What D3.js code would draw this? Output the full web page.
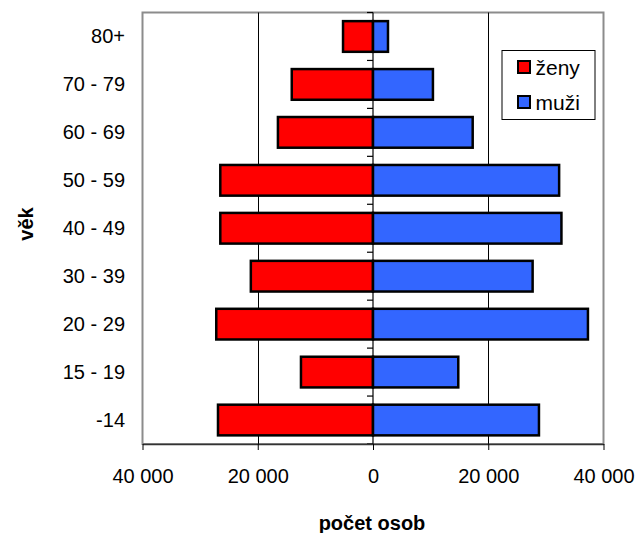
<!DOCTYPE html>
<html><head><meta charset="utf-8">
<script src="https://cdn.jsdelivr.net/npm/d3@7"></script>
<style>body{margin:0;background:#fff}svg{display:block;font-family:Arial,"Liberation Sans",sans-serif}</style>
</head><body><svg id="c" width="638" height="533"></svg>
<script>
const categories = ["80+","70 - 79","60 - 69","50 - 59","40 - 49","30 - 39","20 - 29","15 - 19","-14"];
const zeny = [5200, 14100, 16500, 26500, 26500, 21200, 27200, 12500, 26900];
const muzi = [2600, 10400, 17300, 32300, 32700, 27700, 37300, 14800, 28800];
const xTicks = [-40000, -20000, 0, 20000, 40000];
const seriesNames = ["ženy", "muži"];
const colors = ["#ff0000", "#3366ff"];

const svg = d3.select("#c");
const L = 142.5, R = 603.5, T = 12.5, B = 444;
const x = d3.scaleLinear().domain([-40000, 40000]).range([L, R]);
const y = d3.scaleBand().domain(categories).range([T, B]).paddingInner(0.36).paddingOuter(0.18);
const yb = d3.scaleBand().domain(categories).range([T, B]);
const fmt = v => d3.format(",")(Math.abs(v)).replace(/,/g, " ");

// plot border
svg.append("rect").attr("x", L).attr("y", T).attr("width", R - L).attr("height", B - T)
  .attr("fill", "none").attr("stroke", "#8c8c8c").attr("stroke-width", 2);

// gridlines
svg.append("g").selectAll("line").data([-20000, 20000]).join("line")
  .attr("x1", d => Math.round(x(d)) + 0.5).attr("x2", d => Math.round(x(d)) + 0.5)
  .attr("y1", T).attr("y2", B).attr("stroke", "#000").attr("stroke-width", 1);

// bars
const bars = svg.append("g");
bars.selectAll("rect.z").data(categories).join("rect").attr("class", "z")
  .attr("x", (d, i) => x(-zeny[i])).attr("width", (d, i) => x(0) - x(-zeny[i]))
  .attr("y", d => y(d)).attr("height", y.bandwidth())
  .attr("fill", colors[0]).attr("stroke", "#000").attr("stroke-width", 2.5);
bars.selectAll("rect.m").data(categories).join("rect").attr("class", "m")
  .attr("x", x(0)).attr("width", (d, i) => x(muzi[i]) - x(0))
  .attr("y", d => y(d)).attr("height", y.bandwidth())
  .attr("fill", colors[1]).attr("stroke", "#000").attr("stroke-width", 2.5);

// vertical axis at zero with ticks at band boundaries
const ax = svg.append("g");
ax.append("line").attr("x1", x(0)).attr("x2", x(0)).attr("y1", T).attr("y2", B).attr("stroke", "#000").attr("stroke-width", 1.2);
const bounds = categories.map(d => yb(d)).concat([B]);
ax.selectAll("line.t").data(bounds).join("line").attr("class", "t")
  .attr("x1", x(0) - 6).attr("x2", x(0)).attr("y1", d => d).attr("y2", d => d)
  .attr("stroke", "#000").attr("stroke-width", 1.2);

// bottom axis
const bx = svg.append("g").attr("transform", `translate(0,${B})`)
  .call(d3.axisBottom(x).tickValues(xTicks).tickFormat(fmt).tickSize(6).tickSizeOuter(0));
bx.select(".domain").attr("stroke", "#333").attr("stroke-width", 1.5);
bx.selectAll(".tick line").attr("stroke", "#000");
bx.selectAll("text").attr("font-size", 20).attr("fill", "#000").attr("dy", 0).attr("y", 39)
  .attr("font-family", "Arial, 'Liberation Sans', sans-serif");

// category labels
svg.append("g").selectAll("text").data(categories).join("text")
  .attr("x", 125).attr("y", d => yb(d) + yb.bandwidth() / 2 + 7)
  .attr("text-anchor", "end").attr("font-size", 20).text(d => d);

// axis titles
svg.append("text").attr("x", 372).attr("y", 530).attr("text-anchor", "middle")
  .attr("font-size", 20).attr("font-weight", "bold").text("počet osob");
svg.append("text").attr("transform", "translate(33,224) rotate(-90)").attr("text-anchor", "middle")
  .attr("font-size", 20).attr("font-weight", "bold").text("věk");

// legend
const lg = svg.append("g");
lg.append("rect").attr("x", 502).attr("y", 50.5).attr("width", 93).attr("height", 69)
  .attr("fill", "#fff").attr("stroke", "#000").attr("stroke-width", 1);
seriesNames.forEach((n, i) => {
  const yy = 61 + i * 35;
  lg.append("rect").attr("x", 518).attr("y", yy).attr("width", 12).attr("height", 12)
    .attr("fill", colors[i]).attr("stroke", "#000").attr("stroke-width", 2);
  lg.append("text").attr("x", 535.5).attr("y", yy + 14).attr("font-size", 21).text(n);
});
</script></body></html>
